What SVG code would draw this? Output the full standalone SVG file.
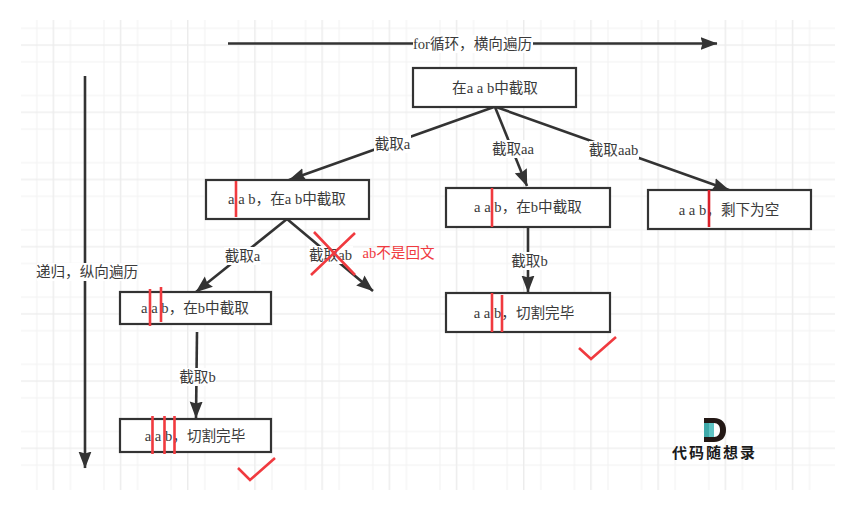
<svg xmlns="http://www.w3.org/2000/svg" width="868" height="511" viewBox="0 0 868 511">
<style>
text{font-family:"Liberation Serif","Noto Sans CJK SC",serif;font-size:14.6px;fill:#3a3a3a;text-anchor:middle;dominant-baseline:central}
.box{fill:#fff;stroke:#333;stroke-width:2.2}
.edge{fill:none;stroke:#333;stroke-width:2.6}
.lab{fill:#fff}
.red{fill:none;stroke:#f03a3f;stroke-width:2.6}
</style>
<defs>
<pattern id="grid" x="20" y="11.5" width="67.2" height="67.2" patternUnits="userSpaceOnUse">
<path d="M16.8 0V67.2M33.6 0V67.2M50.4 0V67.2M0 16.8H67.2M0 33.6H67.2M0 50.4H67.2" fill="none" stroke="#f2f2f2" stroke-width="1"/>
<path d="M33.2 0V67.2M0 33.6H67.2" fill="none" stroke="#ececec" stroke-width="1.2"/>
</pattern>
<marker id="arrow" viewBox="0 0 17 14" refX="16.500" refY="7" markerWidth="17" markerHeight="14" markerUnits="userSpaceOnUse" orient="auto">
<path d="M0 0.500L17 7L0 13.500L2 7Z" fill="#333"/>
</marker>
</defs>
<rect x="21" y="20" width="814" height="470" fill="url(#grid)"/>
<g id="connectors">
<path class="edge" marker-end="url(#arrow)" d="M228 43.500H717"/>
<path class="edge" marker-end="url(#arrow)" d="M85 76V468"/>
<path class="edge" marker-end="url(#arrow)" d="M494 107L289 180"/>
<path class="edge" marker-end="url(#arrow)" d="M495 107L527 186"/>
<path class="edge" marker-end="url(#arrow)" d="M496 107L729 190"/>
<path class="edge" marker-end="url(#arrow)" d="M287 219L196 292"/>
<path class="edge" marker-end="url(#arrow)" d="M287 219L373 291"/>
<path class="edge" marker-end="url(#arrow)" d="M528 227V292"/>
<path class="edge" marker-end="url(#arrow)" d="M197 332L196 418"/>
</g>
<g id="edge-labels">
<rect class="lab" x="413" y="35" width="120" height="18"/><text x="472.500" y="44">for循环，横向遍历</text>
<rect class="lab" x="37" y="263" width="100" height="18"/><text x="87" y="272">递归，纵向遍历</text>
<rect class="lab" x="374" y="135" width="37" height="18"/><text x="392.500" y="144">截取a</text>
<rect class="lab" x="492" y="140" width="42" height="18"/><text x="513" y="149">截取aa</text>
<rect class="lab" x="589" y="141" width="50" height="18"/><text x="613.500" y="150">截取aab</text>
<rect class="lab" x="224" y="247" width="37" height="18"/><text x="242.500" y="256">截取a</text>
<rect class="lab" x="309" y="246" width="44" height="18"/><text x="330.500" y="255">截取ab</text>
<rect class="lab" x="179" y="368" width="37" height="18"/><text x="197.500" y="377">截取b</text>
<rect class="lab" x="511" y="252" width="37" height="18"/><text x="529.500" y="261">截取b</text>
</g>
<g id="n1"><rect class="box" x="413" y="68" width="163" height="39"/><text x="495" y="87.500">在a a b中截取</text></g>
<g id="n2"><rect class="box" x="206" y="180" width="163" height="39"/><text x="287" y="199">a a b，在a b中截取</text><path class="red" d="M236 181V217"/></g>
<g id="n3"><rect class="box" x="446" y="188" width="164" height="39"/><text x="528" y="207">a a b，在b中截取</text><path class="red" d="M492 188V227"/></g>
<g id="n4"><rect class="box" x="648" y="190" width="163" height="39"/><text x="729" y="209.500">a a b，剩下为空</text><path d="M709 190V227" fill="none" stroke="#d9202a" stroke-width="2.600"/></g>
<g id="n5"><rect class="box" x="120" y="292" width="151" height="32"/><text x="195" y="308">a a b，在b中截取</text><path class="red" d="M150 289V326M161 287V322"/></g>
<g id="n6"><rect class="box" x="446" y="293" width="164" height="39"/><text x="524" y="313">a a b，切割完毕</text><path class="red" d="M492 293V332M502 295V332"/></g>
<g id="n7"><rect class="box" x="120" y="419" width="151" height="33"/><text x="195" y="435.500">a a b，切割完毕</text><path class="red" d="M152.500 416V454M164.500 416V454M174.500 416V454"/></g>
<g id="marks">
<path class="red" d="M314 232L355 275M355 233L311 275"/>
<text x="398.500" y="253" style="fill:#f03a3f">ab不是回文</text>
<path class="red" d="M238 468L250 480L275 458"/>
<path class="red" d="M579 348L591 359L616 337"/>
</g>
<g id="logo">
<path d="M704 418H714C722 418 726 423 726 430C726 437 722 442 714 442H704Z" fill="#231815"/>
<path d="M709 423H714C718 423 720 426 720 430C720 434 718 437 714 437H709Z" fill="#fff"/>
<rect x="704" y="423" width="5" height="14" fill="#3fa9a9"/><rect x="709" y="423" width="5" height="14" fill="#5fc4c4"/>
<text x="714.500" y="453" style="font-size:15px;font-weight:700;fill:#1a1a1a;letter-spacing:2px">代码随想录</text>
</g>
</svg>
